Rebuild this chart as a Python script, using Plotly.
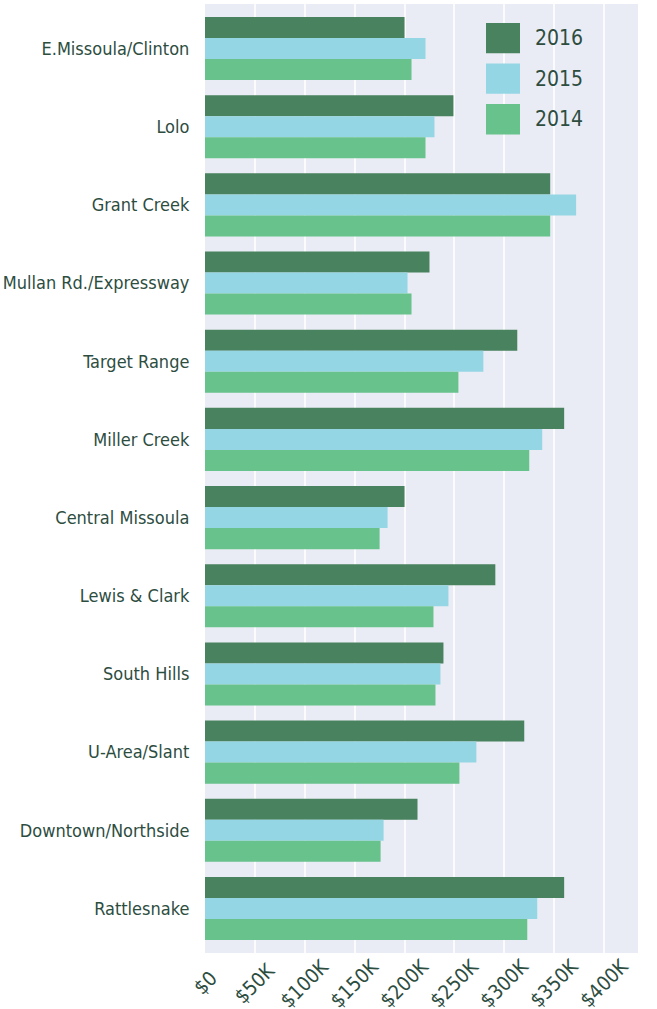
import plotly.graph_objects as go

# neighbourhoods, top to bottom
neighborhoods = [
    "E.Missoula/Clinton", "Lolo", "Grant Creek", "Mullan Rd./Expressway",
    "Target Range", "Miller Creek", "Central Missoula", "Lewis & Clark",
    "South Hills", "U-Area/Slant", "Downtown/Northside", "Rattlesnake",
]
# median price, $K
price_2016 = [200, 249, 346, 225, 313, 360, 200, 291, 239, 320, 213, 360]
price_2015 = [221, 230, 372, 203, 279, 338, 183, 244, 236, 272, 179, 333]
price_2014 = [207, 221, 346, 207, 254, 325, 175, 229, 231, 255, 176, 323]

tick_vals = [0, 50, 100, 150, 200, 250, 300, 350, 400]
tick_text = ["$0", "$50K", "$100K", "$150K", "$200K", "$250K", "$300K", "$350K", "$400K"]

_DARK  = "#48825e"
_BLUE  = "#94d6e3"
_GREEN = "#67c28c"
_BG    = "#eaecf5"
_TEXT  = "#2d4d3f"
_FONT  = "DejaVu Sans Condensed, Roboto, sans-serif"

series = [("2016", price_2016, _DARK), ("2015", price_2015, _BLUE), ("2014", price_2014, _GREEN)]

fig = go.Figure()
for name, vals, color in series:
    fig.add_trace(go.Bar(
        y=neighborhoods, x=vals, name=name, orientation="h",
        marker=dict(color=color, line=dict(width=0)),
    ))

# legend drawn by hand so the swatches can be as big as in the original
for i, (name, _, color) in enumerate(series):
    y0 = 0.980 - i * 0.0427
    fig.add_shape(type="rect", xref="paper", yref="paper",
                  x0=0.649, x1=0.7275, y0=y0 - 0.032, y1=y0,
                  fillcolor=color, line_width=0)
    fig.add_annotation(xref="paper", yref="paper", x=0.758, y=y0 - 0.016,
                       text=name, showarrow=False, xanchor="left", yanchor="middle",
                       font=dict(size=21, color=_TEXT))

# x tick labels centred under their ticks (matplotlib style, rotated 45°)
for v, t in zip(tick_vals, tick_text):
    fig.add_annotation(x=v, xref="x", y=0, yref="paper", text=t,
                       showarrow=False, textangle=-45,
                       xanchor="center", yanchor="middle", yshift=-30,
                       font=dict(size=20, color=_TEXT))

fig.update_layout(
    barmode="group", bargap=0.193, bargroupgap=0,
    width=657, height=1009,
    margin=dict(l=205, r=19, t=4, b=56),
    plot_bgcolor=_BG, paper_bgcolor="white",
    font=dict(family=_FONT, size=18, color=_TEXT),
    showlegend=False,
    xaxis=dict(range=[0, 434], tickvals=tick_vals, showticklabels=False,
               showgrid=True, gridcolor="rgba(255,255,255,0.8)",
               gridwidth=1.5, layer="above traces", zeroline=False,
               automargin=False),
    yaxis=dict(range=[11.57, -0.57], showgrid=False, ticks="outside",
               ticklen=11, tickcolor="rgba(0,0,0,0)", automargin=False),
)

# page has a default 8px body margin; drop it so the figure fills the window
fig.write_html("out.html", config={"displayModeBar": False},
               post_script="document.body.style.margin='0';")
